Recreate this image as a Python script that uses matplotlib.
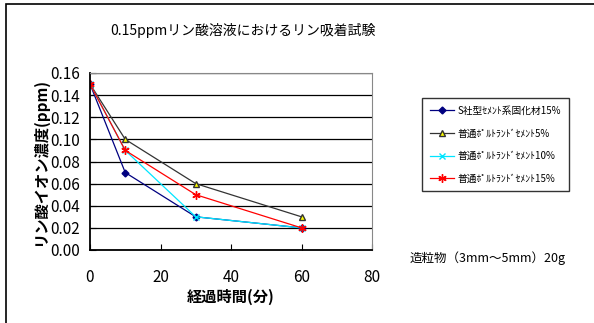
import matplotlib
matplotlib.use("Agg")
import matplotlib.pyplot as plt
from matplotlib.patches import Rectangle

plt.rcParams['font.family'] = ['Noto Sans CJK JP', 'DejaVu Sans']

# 経過時間(分) と リン酸イオン濃度(ppm)
minutes = [0, 10, 30, 60]
s_cement_15 = [0.15, 0.07, 0.03, 0.02]
portland_5 = [0.15, 0.10, 0.06, 0.03]
portland_10 = [0.15, 0.09, 0.03, 0.02]
portland_15 = [0.15, 0.09, 0.05, 0.02]
labels = ['S社型ｾﾒﾝﾄ系固化材15%', '普通ﾎﾟﾙﾄﾗﾝﾄﾞｾﾒﾝﾄ5%',
          '普通ﾎﾟﾙﾄﾗﾝﾄﾞｾﾒﾝﾄ10%', '普通ﾎﾟﾙﾄﾗﾝﾄﾞｾﾒﾝﾄ15%']

fig = plt.figure(figsize=(5.94, 3.23), dpi=100)
fig.patches.append(Rectangle((6 / 594, -0.1), 1.2, (323 - 4) / 323 + 0.1,
                             transform=fig.transFigure, fill=False,
                             edgecolor='black', linewidth=1.2))
ax = fig.add_axes([90 / 594, 73 / 323, 282 / 594, 177 / 323])

ax.plot(minutes, s_cement_15, color='#000080', marker='D', markersize=3.5,
        lw=0.9, label=labels[0])
ax.plot(minutes, portland_5, color='#333333', marker='^', markersize=5,
        markerfacecolor='#ffff00', markeredgecolor='#333333', lw=0.9, label=labels[1])
ax.plot(minutes, portland_10, color='#00e5ff', marker='x', markersize=5,
        lw=0.9, label=labels[2])
ax.plot(minutes, portland_15, color='#ff0000', marker=(6, 2, 0), markersize=6,
        lw=0.9, label=labels[3])

ax.set_xlim(0, 80)
ax.set_ylim(0, 0.16)
ax.set_xticks([0, 20, 40, 60, 80])
ax.set_yticks([0.00, 0.02, 0.04, 0.06, 0.08, 0.10, 0.12, 0.14, 0.16])
ax.set_yticklabels([f'{v:.2f}' for v in ax.get_yticks()])
ax.tick_params(direction='in', length=4, labelsize=11, pad=7)
ax.tick_params(axis='x', pad=14)
ax.yaxis.grid(True, color='black', linewidth=0.9)
ax.set_axisbelow(True)
ax.spines['left'].set_linewidth(1.3)
ax.spines['bottom'].set_linewidth(1.3)
ax.spines['top'].set_color('#888888')
ax.spines['right'].set_color('#888888')

ax.set_xlabel('経過時間(分)', fontsize=11, fontweight='bold', labelpad=2)
ax.set_ylabel('リン酸イオン濃度(ppm)', fontsize=11, fontweight='bold', labelpad=2)
fig.text(243 / 594, 1 - 30 / 323, '0.15ppmリン酸溶液におけるリン吸着試験',
         ha='center', va='center', fontsize=10)
fig.text(410 / 594, 1 - 258 / 323, '造粒物（3mm～5mm）20g',
         ha='left', va='center', fontsize=9)

leg = fig.legend(loc='upper left', bbox_to_anchor=(422 / 594, 1 - 98 / 323),
                 fontsize=7, frameon=True, fancybox=False, edgecolor='black',
                 borderpad=0.8, labelspacing=1.3, handlelength=2.5,
                 handletextpad=0.4, borderaxespad=0)
leg.get_frame().set_linewidth(1.0)

fig.savefig('out.png', dpi=100)
